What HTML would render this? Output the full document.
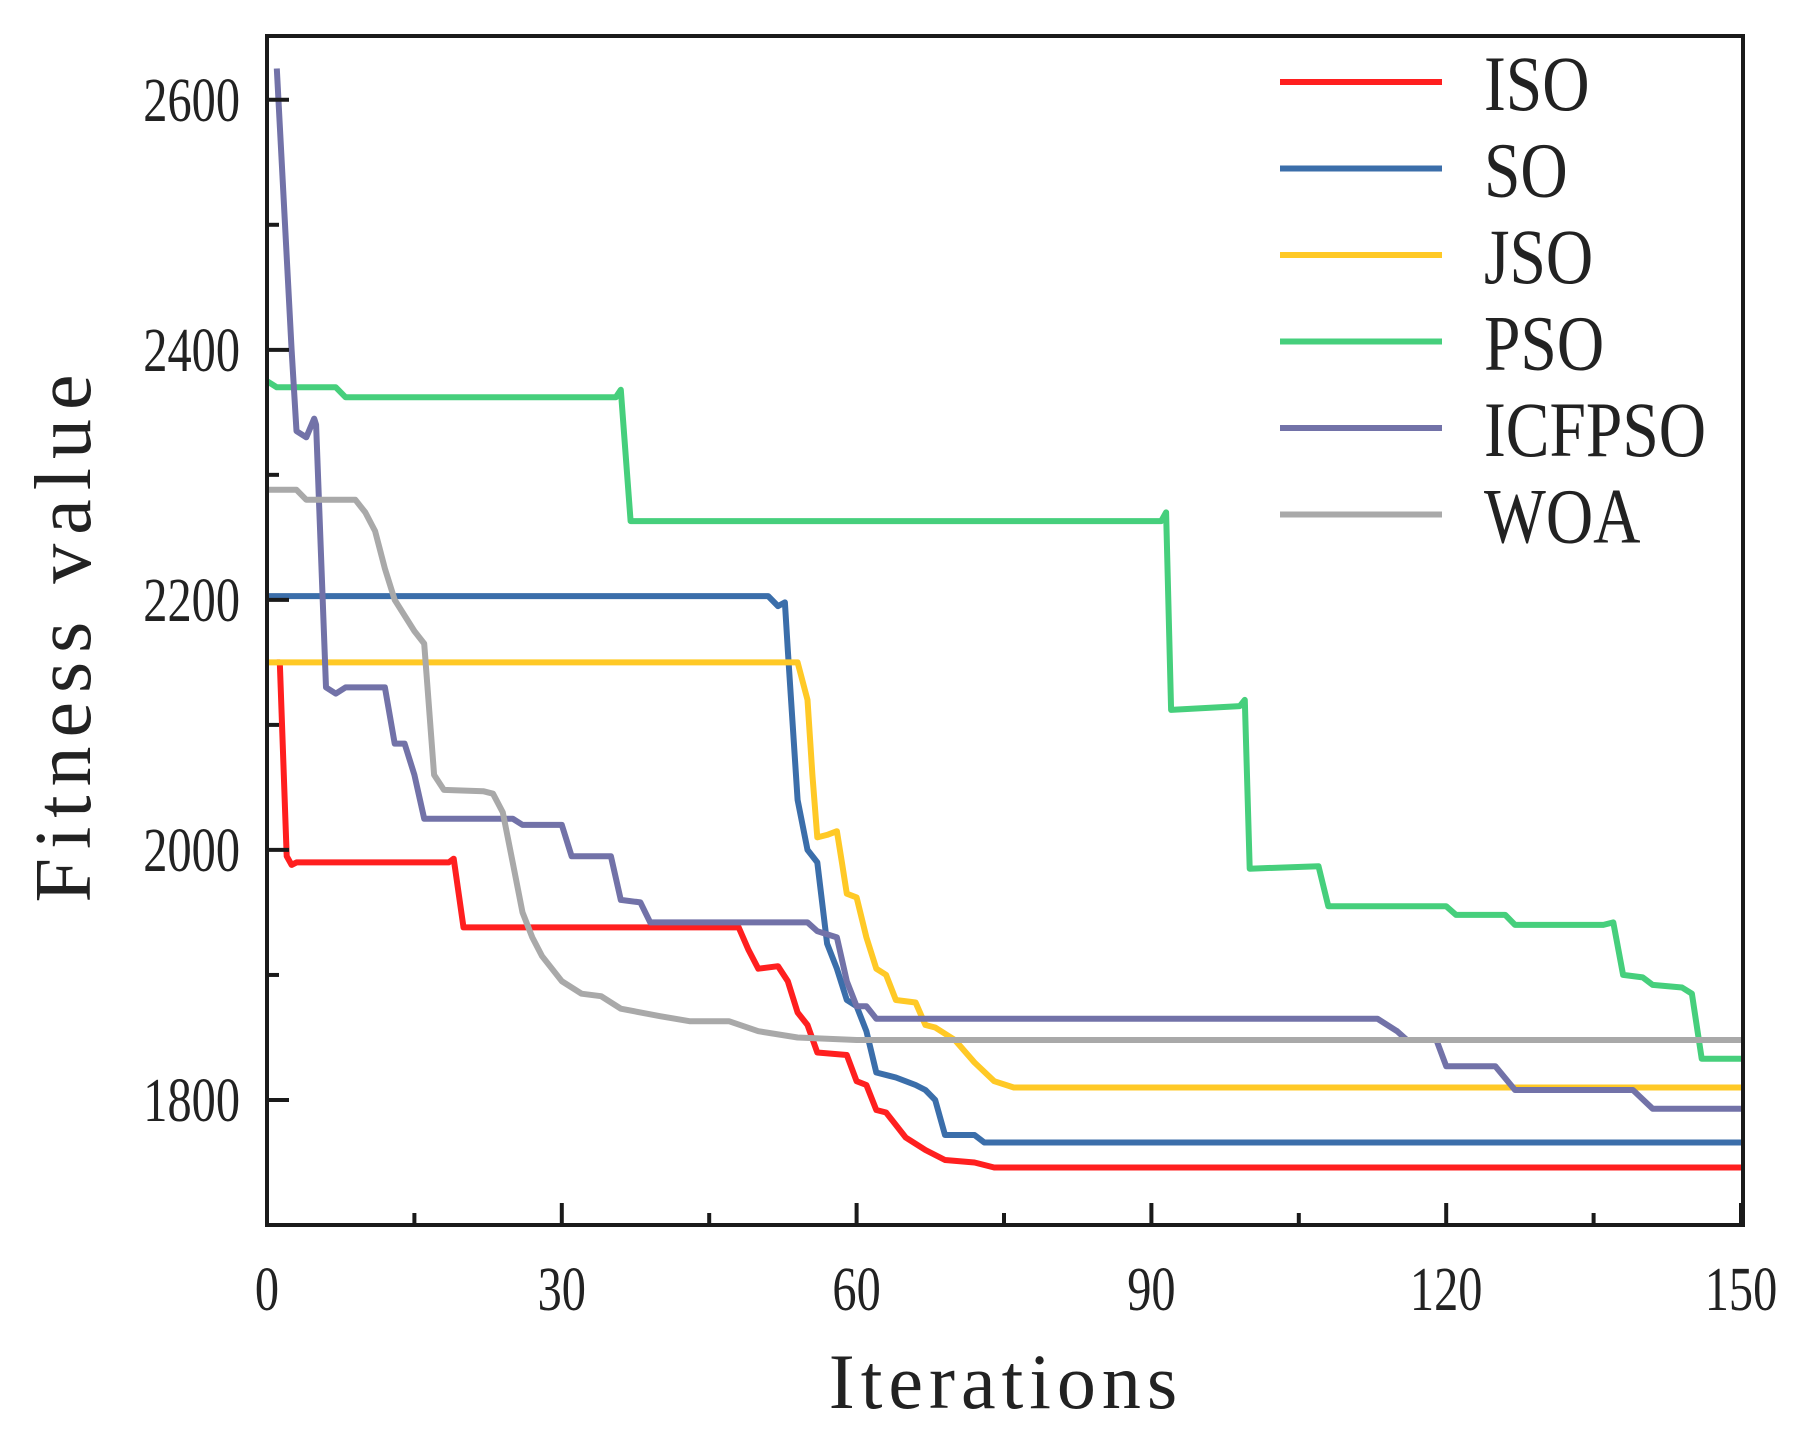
<!DOCTYPE html>
<html><head><meta charset="utf-8"><style>
html,body{margin:0;padding:0;background:#fff;}
svg{display:block;}
text{font-family:"Liberation Serif",serif;fill:#222;}
</style></head><body>
<svg id="chart" width="1817" height="1449" viewBox="0 0 1817 1449"></svg>
<script>
const xTicks = [0, 30, 60, 90, 120, 150];
const yTicks = [1800, 2000, 2200, 2400, 2600];
const seriesNames = ["ISO", "SO", "JSO", "PSO", "ICFPSO", "WOA"];
const seriesColors = ["#ff1f1f", "#3b6eaa", "#ffc926", "#46cf7c", "#7272a8", "#a9a9a9"];

const isoX = [1,1.3,2,2.5,3,18.5,19,20,48,49,50,52,53,54,55,56,59,60,61,62,63,65,67,69,72,74,150];
const isoY = [2150,2150,1995,1988,1990,1990,1993,1938,1938,1920,1905,1907,1895,1870,1860,1838,1836,1815,1812,1792,1790,1770,1760,1752,1750,1746,1746];
const soX  = [0,51,52,52.7,53,53.5,54,55,56,57,58,59,60,61,62,64,66,67,68,69,72,73,150];
const soY  = [2203,2203,2195,2198,2160,2100,2040,2000,1990,1925,1905,1880,1875,1855,1822,1818,1812,1808,1800,1772,1772,1766,1766];
const jsoX = [0,54,55,55.5,56,57,58,58.5,59,60,61,62,63,64,66,67,68,70,72,74,76,150];
const jsoY = [2150,2150,2120,2060,2010,2012,2015,1990,1965,1962,1930,1905,1900,1880,1878,1860,1858,1848,1830,1815,1810,1810];
const psoX = [0,1,7,8,35.5,36,37,91,91.5,92,99,99.5,100,107,108,120,121,126,127,136,137,138,140,141,144,145,146,150];
const psoY = [2375,2370,2370,2362,2362,2368,2263,2263,2270,2112,2115,2120,1985,1987,1955,1955,1948,1948,1940,1940,1942,1900,1898,1892,1890,1885,1833,1833];
const icfX = [1,2.5,3,4,4.8,5,6,7,8,12,13,14,15,16,25,26,30,31,35,36,38,39,55,56,58,59,60,61,62,113,115,116,119,120,125,127,139,141,150];
const icfY = [2625,2400,2335,2330,2345,2340,2130,2125,2130,2130,2085,2085,2060,2025,2025,2020,2020,1995,1995,1960,1958,1942,1942,1935,1930,1895,1875,1875,1865,1865,1855,1848,1848,1827,1827,1808,1808,1793,1793];
const woaX = [0,3,4,9,10,11,12,13,15,16,17,18,22,23,24,25,26,27,28,30,32,34,36,40,43,47,50,54,60,150];
const woaY = [2288,2288,2280,2280,2270,2255,2225,2200,2175,2165,2060,2048,2047,2045,2030,1990,1950,1930,1915,1895,1885,1883,1873,1867,1863,1863,1855,1850,1848,1848];
const allX = [isoX, soX, jsoX, psoX, icfX, woaX];
const allY = [isoY, soY, jsoY, psoY, icfY, woaY];

const L = 267, R = 1741, T = 36, B = 1225;
const X0 = 0, X1 = 150, Y0 = 1700, Y1 = 2651;
const sx = v => L + (v - X0) / (X1 - X0) * (R - L);
const sy = v => B - (v - Y0) / (Y1 - Y0) * (B - T);
const NS = "http://www.w3.org/2000/svg";
const svg = document.getElementById("chart");
function mk(tag, attrs, parent) {
  const e = document.createElementNS(NS, tag);
  for (const k in attrs) e.setAttribute(k, attrs[k]);
  (parent || svg).appendChild(e);
  return e;
}

const gS = mk("g", {});


allX.forEach((xs, i) => {
  const pts = xs.map((x, j) => sx(x).toFixed(1) + "," + sy(allY[i][j]).toFixed(1)).join(" ");
  const pl = mk("polyline", {points: pts, fill: "none", stroke: seriesColors[i], "stroke-width": 6, "stroke-linejoin": "round"}, gS);
  
  
});

const fr = mk("rect", {x: L, y: T, width: R - L + 2, height: B - T, fill: "none", stroke: "#1a1a1a", "stroke-width": 4});



for (let v = 0; v <= 150; v += 15) {
  const major = v % 30 === 0;
  const t = mk("line", {x1: sx(v), x2: sx(v), y1: B, y2: B - (major ? 22 : 12), stroke: "#1a1a1a", "stroke-width": 4});
  
  
}
xTicks.forEach(v => {
  const t = mk("text", {x: sx(v), y: 1310, "font-size": 62, "text-anchor": "middle", fill: "#333", transform: `translate(${sx(v)},0) scale(0.78,1) translate(${-sx(v)},0)`});
  t.textContent = v;
  
  
});
for (let v = 1800; v <= 2600; v += 100) {
  const major = v % 200 === 0;
  const t = mk("line", {x1: L, x2: L + (major ? 22 : 12), y1: sy(v), y2: sy(v), stroke: "#1a1a1a", "stroke-width": 4});
  
  
}
yTicks.forEach(v => {
  const t = mk("text", {x: 240, y: sy(v) + 21, "font-size": 62, "text-anchor": "end", fill: "#333", transform: `translate(240,0) scale(0.78,1) translate(-240,0)`});
  t.textContent = v;
  
  
});

const xt = mk("text", {x: 1006, y: 1408, "font-size": 78, "text-anchor": "middle", "letter-spacing": 6, fill: "#444"});
xt.textContent = "Iterations";


const yt = mk("text", {x: 0, y: 0, "font-size": 80, "text-anchor": "middle", "letter-spacing": 9, fill: "#444", transform: "translate(90,634) rotate(-90)"});
yt.textContent = "Fitness value";



seriesNames.forEach((n, i) => {
  const y = 82 + i * 86.5;
  const g = mk("g", {});
  
  
  mk("line", {x1: 1280, x2: 1442, y1: y, y2: y, stroke: seriesColors[i], "stroke-width": 6}, g);
  const t = mk("text", {x: 1484, y: y + 28, "font-size": 78, transform: `translate(1484,0) scale(0.84,1) translate(-1484,0)`}, g);
  t.textContent = n;
});
</script>
</body></html>
